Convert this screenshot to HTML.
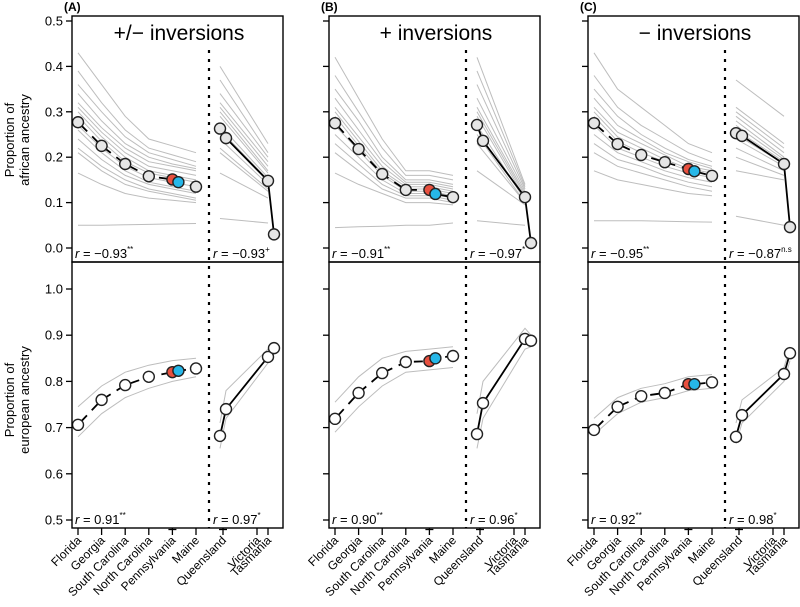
<!DOCTYPE html>
<html><head><meta charset="utf-8"><style>
body{margin:0;background:#fff}
svg{display:block;font-family:"Liberation Sans",Arial,sans-serif}
</style></head><body>
<svg id="chart" width="800" height="607" viewBox="0 0 800 607" xmlns="http://www.w3.org/2000/svg">
<g id="root"></g>
</svg>
<script>
const leftSites = ["Florida","Georgia","South Carolina","North Carolina","Pennsylvania","Maine"];
const rightSites = ["Queensland","Victoria","Tasmania"];
const panelLetters = ["(A)","(B)","(C)"];
const panelTitles = ["+/\u2212 inversions","+ inversions","\u2212 inversions"];
const topTicks = [0.0,0.1,0.2,0.3,0.4,0.5];
const botTicks = [0.5,0.6,0.7,0.8,0.9,1.0];
const topLeftMeans = [[0.277,0.225,0.185,0.158,0.151,0.145,0.135],[0.275,0.218,0.163,0.128,0.128,0.119,0.112],[0.275,0.229,0.205,0.189,0.174,0.169,0.159]];
const topRightMeans = [[0.263,0.242,0.148,0.03],[0.271,0.236,0.112,0.011],[0.253,0.247,0.185,0.046]];
const botLeftMeans = [[0.706,0.76,0.792,0.81,0.82,0.823,0.828],[0.719,0.775,0.818,0.842,0.844,0.85,0.855],[0.695,0.745,0.768,0.775,0.794,0.794,0.798]];
const botRightMeans = [[0.682,0.74,0.853,0.872],[0.686,0.753,0.892,0.888],[0.68,0.727,0.816,0.861]];
const topR = ["r = \u22120.93","r = \u22120.91","r = \u22120.95"];
const topRSig = ["**","**","**"];
const topR2 = ["r = \u22120.93","r = \u22120.97","r = \u22120.87"];
const topR2Sig = ["+","*","n.s"];
const botR = ["r = 0.91","r = 0.90","r = 0.92"];
const botR2 = ["r = 0.97","r = 0.96","r = 0.98"];
const botRSig = ["**","**","**"];
const botR2Sig = ["*","*","*"];
const greyTopLeft = [
[[0.43,0.36,0.29,0.24,0.225,0.21],[0.39,0.32,0.26,0.22,0.205,0.19],[0.36,0.30,0.245,0.21,0.195,0.18],[0.34,0.28,0.23,0.20,0.185,0.175],[0.32,0.265,0.22,0.19,0.18,0.17],[0.31,0.255,0.21,0.18,0.17,0.16],[0.30,0.245,0.20,0.17,0.16,0.15],[0.29,0.235,0.19,0.165,0.155,0.145],[0.27,0.22,0.18,0.155,0.145,0.135],[0.26,0.21,0.17,0.145,0.135,0.125],[0.24,0.195,0.16,0.14,0.13,0.12],[0.22,0.18,0.15,0.13,0.12,0.11],[0.21,0.17,0.14,0.125,0.115,0.105],[0.165,0.14,0.12,0.11,0.105,0.10],[0.05,0.05,0.051,0.052,0.053,0.054]],
[[0.42,0.33,0.24,0.17,0.17,0.16],[0.38,0.30,0.22,0.16,0.16,0.15],[0.35,0.28,0.20,0.15,0.15,0.14],[0.33,0.26,0.19,0.145,0.145,0.135],[0.31,0.245,0.18,0.14,0.14,0.13],[0.30,0.235,0.17,0.135,0.135,0.125],[0.29,0.225,0.165,0.13,0.13,0.12],[0.27,0.215,0.16,0.125,0.125,0.115],[0.25,0.20,0.15,0.12,0.12,0.11],[0.23,0.185,0.14,0.115,0.115,0.105],[0.21,0.17,0.13,0.11,0.11,0.10],[0.165,0.14,0.12,0.10,0.10,0.095],[0.045,0.047,0.048,0.05,0.05,0.055]],
[[0.43,0.35,0.31,0.27,0.23,0.21],[0.38,0.31,0.27,0.24,0.21,0.19],[0.35,0.29,0.25,0.22,0.195,0.18],[0.33,0.27,0.24,0.21,0.19,0.175],[0.31,0.255,0.23,0.205,0.18,0.17],[0.30,0.245,0.22,0.195,0.175,0.165],[0.29,0.235,0.21,0.19,0.17,0.16],[0.27,0.22,0.20,0.18,0.165,0.155],[0.25,0.21,0.19,0.17,0.155,0.145],[0.23,0.195,0.18,0.16,0.145,0.135],[0.21,0.18,0.165,0.15,0.135,0.125],[0.17,0.15,0.14,0.13,0.12,0.115],[0.06,0.06,0.06,0.059,0.058,0.057]]];
const greyTopRight = [
[[0.40,0.23],[0.37,0.21],[0.34,0.20],[0.32,0.19],[0.31,0.18],[0.30,0.17],[0.29,0.165],[0.27,0.155],[0.26,0.15],[0.24,0.14],[0.22,0.13],[0.21,0.125],[0.165,0.11],[0.065,0.055]],
[[0.42,0.14],[0.39,0.135],[0.36,0.13],[0.33,0.125],[0.31,0.12],[0.30,0.115],[0.29,0.11],[0.27,0.105],[0.25,0.10],[0.23,0.10],[0.17,0.095],[0.06,0.05]],
[[0.37,0.29],[0.31,0.23],[0.30,0.22],[0.29,0.21],[0.28,0.20],[0.27,0.195],[0.26,0.19],[0.25,0.185],[0.24,0.18],[0.22,0.17],[0.20,0.16],[0.17,0.15],[0.07,0.05]]];
const greyBotLeft = [
[[0.745,0.79,0.82,0.835,0.845,0.85],[0.68,0.73,0.765,0.785,0.80,0.81]],
[[0.755,0.81,0.85,0.865,0.87,0.875],[0.69,0.745,0.79,0.82,0.825,0.83]],
[[0.72,0.765,0.785,0.795,0.81,0.815],[0.685,0.73,0.755,0.765,0.78,0.785]]];
const greyBotRight = [
[[0.71,0.78,0.87,0.88],[0.655,0.72,0.84,0.86]],
[[0.73,0.80,0.915,0.90],[0.655,0.72,0.87,0.875]],
[[0.71,0.76,0.83,0.875],[0.665,0.71,0.80,0.845]]];

const NS="http://www.w3.org/2000/svg";
const root=document.getElementById('root');
function mk(tag,attrs,parent,text){const e=document.createElementNS(NS,tag);for(const k in attrs)e.setAttribute(k,attrs[k]);if(text!==undefined)e.textContent=text;(parent||root).appendChild(e);return e;}
const panelLeft=[72,329,588], PW=211;
const TOP0=16, MID=262, BOT=528;
function yTop(v){return 248-v*454;}
function yBot(v){return 520-(v-0.5)*462;}
function xLeft(L,i){return L+6+i*23.6;}
function xLeftMean(L,i){return i<=4?xLeft(L,i):(i===5?xLeft(L,4)+6:xLeft(L,5));}
function xRightMean(L,i){return L+[148,154,196,202][i];}
function xRightTick(L,i){return L+[151,185,196][i];}
function poly(pts){return pts.map(p=>p[0].toFixed(1)+','+p[1].toFixed(1)).join(' ');}

const yt1=mk('text',{transform:'translate(18,140) rotate(-90)','text-anchor':'middle','font-size':13},root);


mk('tspan',{x:0,dy:-4},yt1,'Proportion of');mk('tspan',{x:0,dy:15},yt1,'african ancestry');
const yt2=mk('text',{transform:'translate(18,400) rotate(-90)','text-anchor':'middle','font-size':13},root);


mk('tspan',{x:0,dy:-4},yt2,'Proportion of');mk('tspan',{x:0,dy:15},yt2,'european ancestry');

for(let p=0;p<3;p++){
  const L=panelLeft[p];
  const g=mk('g',{});
  
  
  const lt=mk('text',{x:L-8,y:11,'font-size':12,'font-weight':'bold'},g,panelLetters[p]);
  
  
  const tt=mk('text',{x:L+107,y:40,'font-size':21,'text-anchor':'middle'},g,panelTitles[p]);
  
  
  topTicks.forEach(v=>{const y=yTop(v);mk('line',{x1:L-6,x2:L,y1:y,y2:y,stroke:'#000','stroke-width':1.3},g);
    if(p===0){const t=mk('text',{x:L-9,y:y+4.5,'font-size':13,'text-anchor':'end'},g,v.toFixed(1));}});
  botTicks.forEach(v=>{const y=yBot(v);mk('line',{x1:L-6,x2:L,y1:y,y2:y,stroke:'#000','stroke-width':1.3},g);
    if(p===0){const t=mk('text',{x:L-9,y:y+4.5,'font-size':13,'text-anchor':'end'},g,v.toFixed(1));}});
  const ds=mk('line',{x1:L+137,x2:L+137,y1:50,y2:BOT,stroke:'#000','stroke-width':2.2,'stroke-dasharray':'3,6'},g);
  
  
  greyTopLeft[p].forEach(s=>{const l=mk('polyline',{points:poly(s.map((v,i)=>[xLeft(L,i),yTop(v)])),fill:'none',stroke:'#bdbdbd','stroke-width':1},g);});
  greyTopRight[p].forEach(s=>{const l=mk('polyline',{points:poly(s.map((v,i)=>[L+[148,196][i],yTop(v)])),fill:'none',stroke:'#bdbdbd','stroke-width':1},g);});
  greyBotLeft[p].forEach(s=>{const l=mk('polyline',{points:poly(s.map((v,i)=>[xLeft(L,i),yBot(v)])),fill:'none',stroke:'#bdbdbd','stroke-width':1},g);});
  greyBotRight[p].forEach(s=>{const l=mk('polyline',{points:poly(s.map((v,i)=>[xRightMean(L,i),yBot(v)])),fill:'none',stroke:'#bdbdbd','stroke-width':1},g);});
  [[topLeftMeans[p],topRightMeans[p],yTop,'#e6e6e6'],[botLeftMeans[p],botRightMeans[p],yBot,'#fff']].forEach(([lm,rm,yf,fc])=>{
    const lpts=lm.map((v,i)=>[xLeftMean(L,i),yf(v)]);
    const ml=mk('polyline',{points:poly(lpts),fill:'none',stroke:'#000','stroke-width':1.8,'stroke-dasharray':'9,7','stroke-dashoffset':-4},g);
    
    const rpts=rm.map((v,i)=>[xRightMean(L,i),yf(v)]);
    const mr=mk('polyline',{points:poly(rpts),fill:'none',stroke:'#000','stroke-width':1.8},g);
    
    lpts.forEach((pt,i)=>{const c=mk('circle',{cx:pt[0],cy:pt[1],r:5.5,fill:i===4?'#e8503f':(i===5?'#26b7e8':fc),stroke:'#222','stroke-width':1.4},g);});
    rpts.forEach(pt=>{const c=mk('circle',{cx:pt[0],cy:pt[1],r:5.5,fill:fc,stroke:'#222','stroke-width':1.4},g);});
  });
  const f1=mk('rect',{x:L,y:TOP0,width:PW,height:MID-TOP0,fill:'none',stroke:'#000','stroke-width':1.4},g);
  
  const f2=mk('rect',{x:L,y:MID,width:PW,height:BOT-MID,fill:'none',stroke:'#000','stroke-width':1.4},g);
  
  function rLab(x,y,txt,sig){const t=mk('text',{x:x,y:y,'font-size':13},g);
    mk('tspan',{'font-style':'italic'},t,'r');mk('tspan',{},t,txt.slice(1));mk('tspan',{dy:-6,'font-size':8},t,sig);}
  rLab(L+3,258,topR[p],topRSig[p]);rLab(L+141,258,topR2[p],topR2Sig[p]);
  rLab(L+3,524,botR[p],botRSig[p]);rLab(L+141,524,botR2[p],botR2Sig[p]);
  const xs=leftSites.map((s,i)=>[s,xLeft(L,i)]).concat(rightSites.map((s,i)=>[s,xRightTick(L,i)]));
  xs.forEach(([s,x])=>{mk('line',{x1:x,x2:x,y1:BOT,y2:BOT+7,stroke:'#000','stroke-width':1.3},g);
    if(s==='Pennsylvania'||s==='Queensland')mk('line',{x1:x-4,x2:x+4,y1:BOT+1.5,y2:BOT+1.5,stroke:'#000','stroke-width':1.3},g);
    const t=mk('text',{transform:`translate(${x+4},${BOT+13}) rotate(-45)`,'font-size':12,'text-anchor':'end'},g,s);
    });
}
</script>
</body></html>
